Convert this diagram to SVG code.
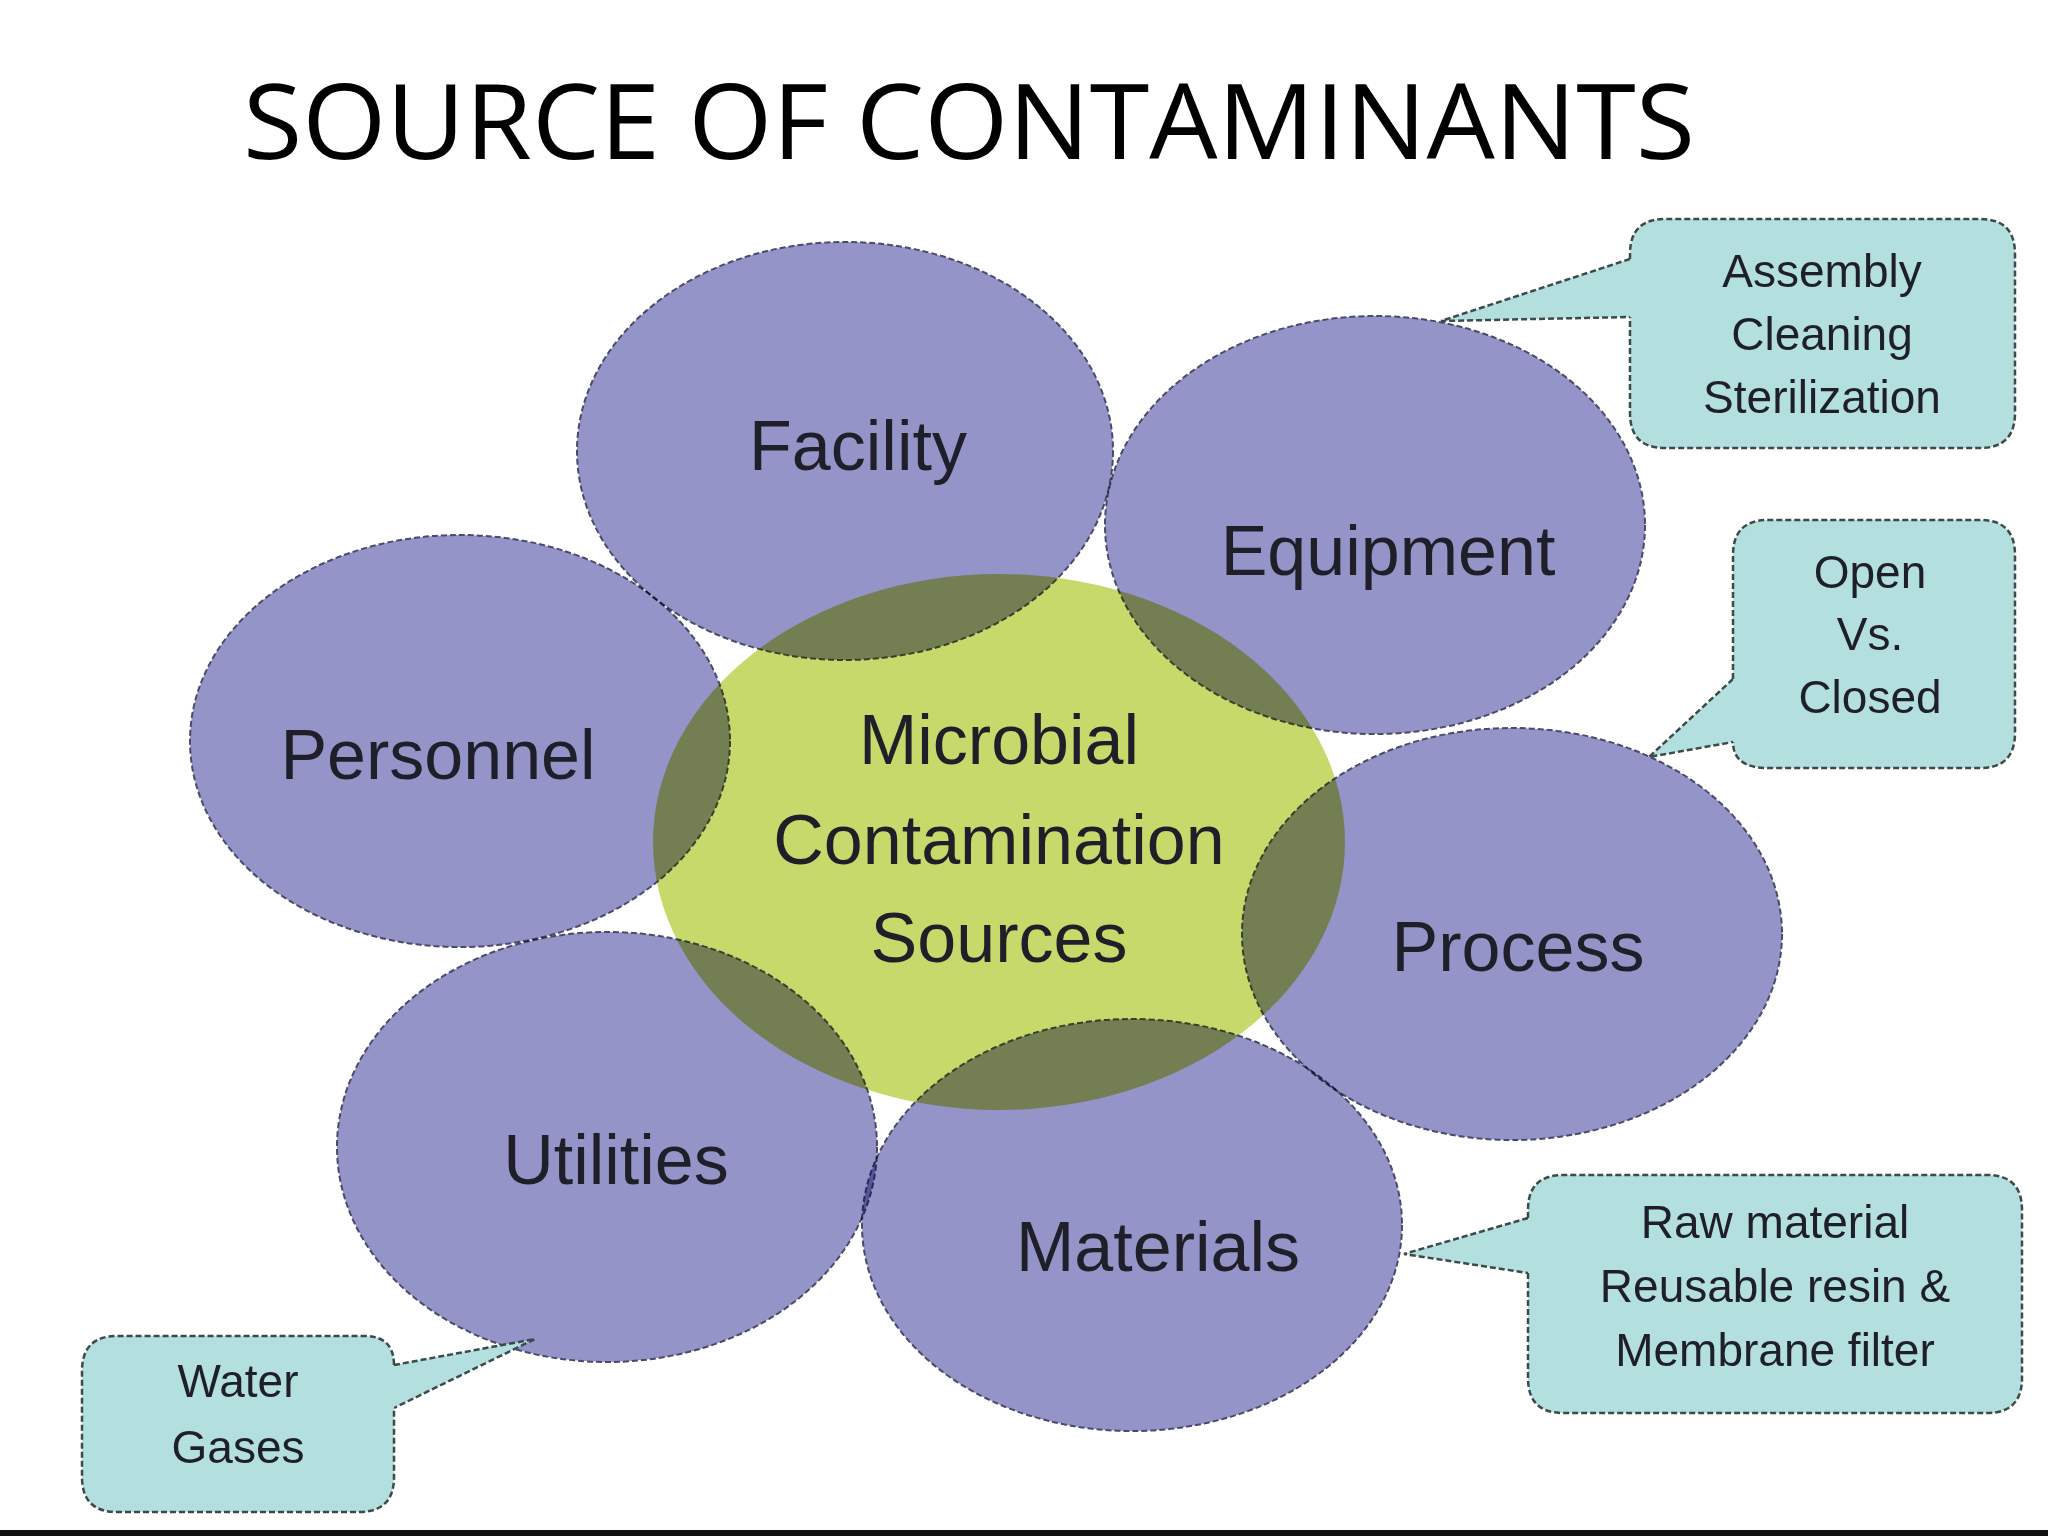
<svg xmlns="http://www.w3.org/2000/svg" width="2048" height="1536" viewBox="0 0 2048 1536">
<style>
.p{fill:#9494c8;stroke:#4a4a6a;stroke-width:2;stroke-dasharray:6 3;mix-blend-mode:multiply}
.g{fill:#c6d96a}
.c{fill:#b3dfdf;stroke:#3d4a4a;stroke-width:2.5;stroke-dasharray:6 3}
.t{font-family:"Liberation Sans",Arial,sans-serif;fill:#1f1f2a;text-anchor:middle}
.big{font-size:70px}
.sm{font-size:46px}
</style>
<rect width="2048" height="1536" fill="#fff"/>
<text x="969" y="159" style="font-family:'Open Sans','Liberation Sans',sans-serif;font-size:104px;text-anchor:middle;fill:#000" textLength="1452" lengthAdjust="spacingAndGlyphs">SOURCE OF CONTAMINANTS</text>
<g id="center"><ellipse class="g" cx="999" cy="842" rx="346" ry="268"/></g>
<g id="facility"><ellipse class="p" cx="845" cy="451" rx="268" ry="209"/></g>
<g id="equipment"><ellipse class="p" cx="1375" cy="525" rx="270" ry="209"/></g>
<g id="personnel"><ellipse class="p" cx="460" cy="741" rx="270" ry="206"/></g>
<g id="process"><ellipse class="p" cx="1512" cy="934" rx="270" ry="206"/></g>
<g id="utilities"><ellipse class="p" cx="607" cy="1147" rx="270" ry="215"/></g>
<g id="materials"><ellipse class="p" cx="1132" cy="1225" rx="270" ry="206"/></g>
<g id="labels">
<text class="t big" x="858" y="470">Facility</text>
<text class="t big" x="1388" y="575">Equipment</text>
<text class="t big" x="438" y="779">Personnel</text>
<text class="t big" x="999" y="764">Microbial</text>
<text class="t big" x="999" y="864">Contamination</text>
<text class="t big" x="999" y="962">Sources</text>
<text class="t big" x="1518" y="971">Process</text>
<text class="t big" x="616" y="1184">Utilities</text>
<text class="t big" x="1158" y="1271">Materials</text>
</g>
<g id="connectors">
<path class="c" d="M1630,259 L1441,321 L1630,317"/>
<path class="c" d="M1733,679 L1649,757 L1733,742"/>
<path class="c" d="M1528,1218 L1404,1254 L1528,1273"/>
<path class="c" d="M394,1365 L535,1339 L394,1408"/>
</g>
<g id="callout1"><path class="c" d="M1630,259 V254 Q1630,219 1665,219 H1980 Q2015,219 2015,254 V413 Q2015,448 1980,448 H1665 Q1630,448 1630,413 V317"/>
<text class="t sm" x="1822" y="287">Assembly</text><text class="t sm" x="1822" y="350">Cleaning</text><text class="t sm" x="1822" y="413">Sterilization</text></g>
<g id="callout2"><path class="c" d="M1733,679 V555 Q1733,520 1768,520 H1980 Q2015,520 2015,555 V733 Q2015,768 1980,768 H1768 Q1733,768 1733,742"/>
<text class="t sm" x="1870" y="588">Open</text><text class="t sm" x="1870" y="650">Vs.</text><text class="t sm" x="1870" y="713">Closed</text></g>
<g id="callout3"><path class="c" d="M1528,1218 V1210 Q1528,1175 1563,1175 H1987 Q2022,1175 2022,1210 V1378 Q2022,1413 1987,1413 H1563 Q1528,1413 1528,1378 V1273"/>
<text class="t sm" x="1775" y="1238">Raw material</text><text class="t sm" x="1775" y="1302">Reusable resin &amp;</text><text class="t sm" x="1775" y="1366">Membrane filter</text></g>
<g id="callout4"><path class="c" d="M394,1365 Q394,1336 364,1336 H117 Q82,1336 82,1371 V1477 Q82,1512 117,1512 H359 Q394,1512 394,1477 V1408"/>
<text class="t sm" x="238" y="1397">Water</text><text class="t sm" x="238" y="1463">Gases</text></g>
<rect x="0" y="1530" width="2048" height="6" fill="#111"/>
</svg>
